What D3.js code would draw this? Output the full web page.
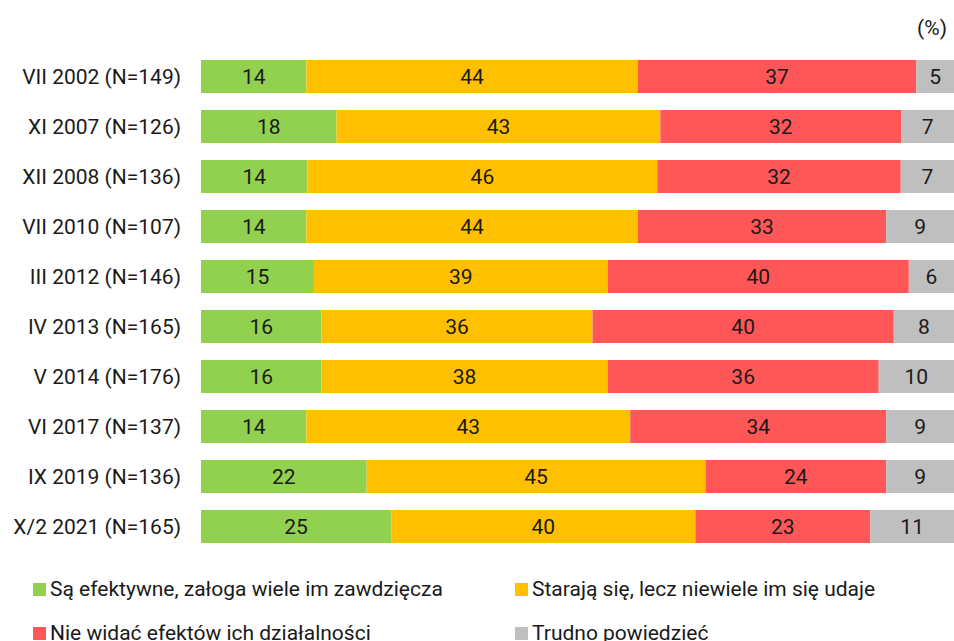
<!DOCTYPE html>
<html>
<head>
<meta charset="utf-8">
<script src="https://cdn.jsdelivr.net/npm/d3@7"></script>
<style>
  body { margin: 0; background: #fff; }
  svg { display: block; font-family: Roboto, "Noto Sans", sans-serif; }
</style>
</head>
<body>
<div id="main-vis"></div>
<script>
// survey waves (rows, top to bottom)
const waves = [
    "VII 2002 (N=149)", "XI 2007 (N=126)", "XII 2008 (N=136)", "VII 2010 (N=107)",
    "III 2012 (N=146)", "IV 2013 (N=165)", "V 2014 (N=176)", "VI 2017 (N=137)",
    "IX 2019 (N=136)", "X/2 2021 (N=165)"
]

const answers = [
    "Są efektywne, załoga wiele im zawdzięcza",
    "Starają się, lecz niewiele im się udaje",
    "Nie widać efektów ich działalności",
    "Trudno powiedzieć"
]

const effective = [14, 18, 14, 14, 15, 16, 16, 14, 22, 25]
const trying    = [44, 43, 46, 44, 39, 36, 38, 43, 45, 40]
const noEffect  = [37, 32, 32, 33, 40, 40, 36, 34, 24, 23]
const hardToSay = [5, 7, 7, 9, 6, 8, 10, 9, 9, 11]

const colors = ["#92D050", "#FFC000", "#FF5757", "#BFBFBF"]

window.onload = setup

function setup () {
    const width = 954, height = 641
    const fs = 21
    const series = [effective, trying, noEffect, hardToSay]

    // one row per wave, keyed by answer index
    const rows = waves.map((w, i) => {
        const r = { wave: w }
        answers.forEach((a, k) => { r[k] = series[k][i] })
        return r
    })

    const stack = d3.stack()
        .keys(d3.range(answers.length))
        .offset(d3.stackOffsetExpand)
    const layers = stack(rows)

    const x = d3.scaleLinear().domain([0, 1]).range([201, 954])
    const y = d3.scaleBand().domain(waves).range([51.5, 551.5]).paddingInner(0.34).paddingOuter(0.17)

    const svg = d3.create('svg')
        .attr('width', width)
        .attr('height', height)

    svg.append('text')
        .attr('x', 947).attr('y', 35)
        .attr('text-anchor', 'end')
        .attr('font-size', fs)
        .attr('fill', '#1a1a1a')
        .text('(%)')

    const g = svg.selectAll('g.layer')
        .data(layers)
        .join('g')
            .attr('class', 'layer')
            .attr('fill', (d, i) => colors[i])

    g.selectAll('rect')
        .data(d => d)
        .join('rect')
            .attr('x', d => x(d[0]))
            .attr('y', d => y(d.data.wave))
            .attr('width', d => x(d[1]) - x(d[0]))
            .attr('height', y.bandwidth())

    g.selectAll('text')
        .data((d, i) => d.map(v => ({ v, k: i })))
        .join('text')
            .attr('x', d => (x(d.v[0]) + x(d.v[1])) / 2)
            .attr('y', d => y(d.v.data.wave) + y.bandwidth() / 2)
            .attr('dy', '0.35em')
            .attr('text-anchor', 'middle')
            .attr('font-size', fs)
            .attr('fill', '#1a1a1a')
            .text(d => d.v.data[d.k])

    // category labels
    svg.append('g')
        .selectAll('text')
        .data(waves)
        .join('text')
            .attr('x', 181)
            .attr('y', d => y(d) + y.bandwidth() / 2)
            .attr('dy', '0.35em')
            .attr('text-anchor', 'end')
            .attr('font-size', fs)
            .attr('fill', '#1a1a1a')
            .text(d => d)

    // legend, 2 columns
    const legendPos = [[33, 589], [515, 589], [33, 633], [515, 633]]
    const leg = svg.append('g')
        .selectAll('g')
        .data(answers)
        .join('g')
            .attr('transform', (d, i) => `translate(${legendPos[i][0]},${legendPos[i][1]})`)
    leg.append('rect')
        .attr('x', 0).attr('y', -6)
        .attr('width', 13).attr('height', 13)
        .attr('fill', (d, i) => colors[i])
    leg.append('text')
        .attr('x', 17)
        .attr('dy', '0.35em')
        .attr('font-size', fs)
        .attr('fill', '#1a1a1a')
        .text(d => d)

    d3.select('#main-vis').node().appendChild(svg.node())
}
</script>
</body>
</html>
